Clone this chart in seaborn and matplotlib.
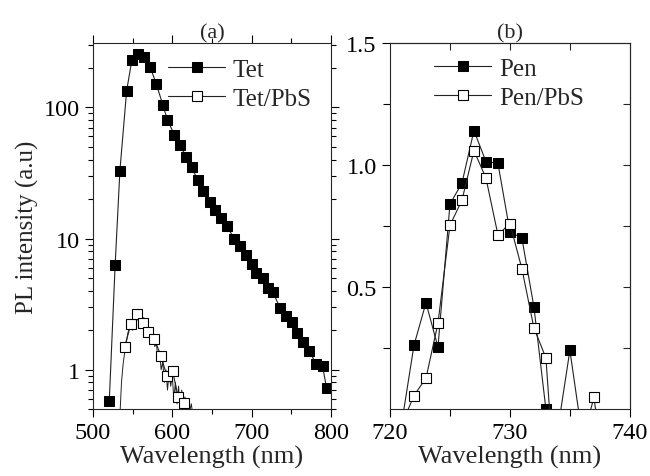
import numpy as np
import pandas as pd
import matplotlib
matplotlib.use("Agg")
import matplotlib.pyplot as plt
import seaborn as sns
from matplotlib.ticker import NullFormatter, MultipleLocator, FixedLocator

# panel (a): Tet and Tet/PbS PL spectra (log scale)
tet_wl = [520.6, 528, 534, 542.5, 549, 557, 565, 572, 580, 588,
          594, 602.5, 610, 617, 624.5, 632, 639, 647, 654, 662,
          669, 678, 685, 692.5, 700, 706, 714, 721, 727, 736,
          743, 750.6, 757.6, 765, 772.8, 781, 789.6, 794.7]
tet_pl = [0.58, 6.3, 33, 134, 228, 254, 244, 204, 150, 105,
          80, 62, 52, 42, 35, 28, 23, 19, 16.6, 14.4,
          12.4, 10, 8.8, 7.5, 6.4, 5.5, 5.0, 4.2, 3.9, 2.95,
          2.55, 2.3, 1.9, 1.64, 1.40, 1.11, 1.06, 0.72]

tetpbs_wl = [540, 548, 555, 562.6, 569.7, 577.3, 585.8, 593, 600.5, 607.5, 615]
tetpbs_pl = [1.5, 2.24, 2.68, 2.27, 1.94, 1.71, 1.28, 0.90, 0.97, 0.62, 0.56]

# raw (noisy) Tet/PbS spectrum drawn under the markers
tetpbs_raw_wl = [534, 536, 538, 540, 542, 544, 546, 548, 550, 552, 554, 556,
                 558, 560, 562, 564, 566, 568, 570, 572, 574, 576, 578, 580,
                 582, 584, 586, 588, 590, 592, 594, 596, 598, 600, 602, 604,
                 606, 608, 610, 612, 614, 616, 618, 620, 622, 624, 626]
tetpbs_raw_pl = [0.45, 0.8, 1.1, 1.35, 1.6, 1.9, 2.1, 2.3, 2.0, 2.5, 2.4, 2.6,
                 2.2, 2.7, 2.3, 2.5, 2.1, 2.2, 1.8, 2.0, 1.7, 1.75, 1.5, 1.6,
                 1.2, 1.35, 1.0, 1.15, 0.8, 1.0, 0.7, 0.95, 0.75, 0.9, 0.6, 0.8,
                 0.55, 0.75, 0.5, 0.7, 0.55, 0.62, 0.5, 0.6, 0.48, 0.55, 0.45]

# panel (b): Pen and Pen/PbS
pen_wl = list(range(721, 737))
pen_pl = [-0.05, 0.262, 0.436, 0.254, 0.84, 0.926, 1.141, 1.014, 1.007, 0.727,
          0.70, 0.419, 0.0, -0.08, 0.241, -0.10]

penpbs_wl = list(range(721, 739))
penpbs_pl = [-0.06, 0.056, 0.127, 0.352, 0.753, 0.856, 1.059, 0.947, 0.714, 0.76,
             0.575, 0.333, 0.21, -0.49, -0.3, -0.14, 0.048, -0.29]

sns.set_theme(style="ticks")
plt.rcParams['font.family'] = ['Liberation Serif', 'DejaVu Serif']
plt.rcParams['axes.linewidth'] = 0.8

LC = '#222222'
MS = 7
FS = 17.5    # tick labels
LFS = 18     # legend
XFS = 19     # x labels

fig = plt.figure(figsize=(6.5, 4.77), dpi=100)
ax1 = fig.add_axes([0.143, 0.140, 0.366, 0.768])
ax2 = fig.add_axes([0.600, 0.140, 0.369, 0.768])

# ---- panel (a)
sns.lineplot(x=tetpbs_raw_wl, y=tetpbs_raw_pl, ax=ax1, color=LC, lw=0.7,
             sort=False, estimator=None)
sns.lineplot(x=tet_wl, y=tet_pl, ax=ax1, color=LC, lw=0.8, marker='s', markersize=MS,
             markerfacecolor='black', markeredgecolor='black', sort=False,
             estimator=None, label='Tet')
sns.lineplot(x=tetpbs_wl, y=tetpbs_pl, ax=ax1, color=LC, lw=0.0, marker='s',
             markersize=MS, markerfacecolor='white', markeredgecolor='black',
             markeredgewidth=0.8, sort=False, estimator=None, label='Tet/PbS')

ax1.set_yscale('log')
ax1.set_xlim(500, 800)
ax1.set_ylim(0.5, 310)
ax1.set_xticks([500, 600, 700, 800])
ax1.xaxis.set_minor_locator(MultipleLocator(50))
ax1.set_yticks([1, 10, 100], labels=['1', '10', '100'])
ax1.yaxis.set_minor_formatter(NullFormatter())
ax1.tick_params(which='both', direction='out', top=True, right=True,
                labelsize=FS, width=0.8, colors='black')
ax1.tick_params(which='major', length=6)
ax1.tick_params(which='minor', length=3.5)
ax1.set_xlabel('Wavelength (nm)', fontsize=XFS, labelpad=1)
ax1.set_ylabel('PL intensity (a.u)', fontsize=18, labelpad=3)
ax1.set_title('(a)', fontsize=16, pad=3)

h, l = ax1.get_legend_handles_labels()
h[1].set_linewidth(0.8)
ax1.legend(h, l, loc='upper left', bbox_to_anchor=(0.315, 0.958), frameon=False,
           fontsize=LFS, borderpad=0, borderaxespad=0, handlelength=2.3,
           handletextpad=0.3, labelspacing=0.25)

# ---- panel (b)
sns.lineplot(x=pen_wl, y=pen_pl, ax=ax2, color=LC, lw=0.8, marker='s', markersize=MS,
             markerfacecolor='black', markeredgecolor='black', sort=False,
             estimator=None, label='Pen')
sns.lineplot(x=penpbs_wl, y=penpbs_pl, ax=ax2, color=LC, lw=0.8, marker='s',
             markersize=MS, markerfacecolor='white', markeredgecolor='black',
             markeredgewidth=0.8, sort=False, estimator=None, label='Pen/PbS')

ax2.set_xlim(720, 740)
ax2.set_ylim(0, 1.5)
ax2.set_xticks([720, 730, 740])
ax2.xaxis.set_minor_locator(MultipleLocator(5))
ax2.set_yticks([0.5, 1.0, 1.5])
ax2.yaxis.set_minor_locator(FixedLocator([0.25, 0.75, 1.25]))
ax2.tick_params(which='both', direction='out', labelsize=FS, width=0.8, colors='black')
ax2.tick_params(which='major', length=6)
ax2.tick_params(which='minor', length=5)
ax2.set_xlabel('Wavelength (nm)', fontsize=XFS, labelpad=1)
ax2.set_ylabel('')
ax2.set_title('(b)', fontsize=16, pad=3)

# inward ticks on the top and right of panel (b)
top = ax2.secondary_xaxis('top')
top.set_xticks([725, 730, 735])
top.tick_params(direction='in', length=5, width=0.8, labeltop=False)
right = ax2.secondary_yaxis('right')
right.set_yticks([0.25, 0.5, 0.75, 1.0, 1.25])
right.tick_params(direction='in', length=5, width=0.8, labelright=False)

ax2.legend(loc='upper left', bbox_to_anchor=(0.183, 0.96), frameon=False,
           fontsize=LFS, borderpad=0, borderaxespad=0, handlelength=2.3,
           handletextpad=0.3, labelspacing=0.25)

fig.savefig('out.png', dpi=100)
